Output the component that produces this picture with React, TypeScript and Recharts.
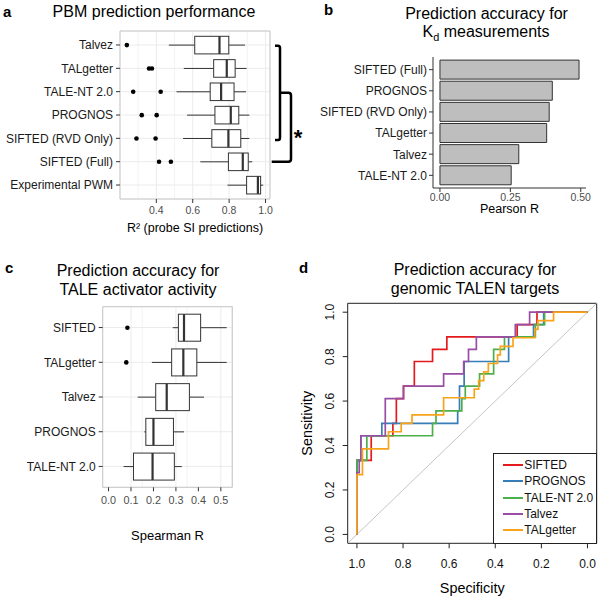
import React from 'react';
import {
  ComposedChart, BarChart, Bar, LineChart, Line, XAxis, YAxis, CartesianGrid, ReferenceLine, Legend,
} from 'recharts';

const FONT = '"Liberation Sans", Arial, Helvetica, sans-serif';

// ---- panel a: PBM prediction performance (R^2 box plots)
const pbmModels = ['Talvez', 'TALgetter', 'TALE-NT 2.0', 'PROGNOS', 'SIFTED (RVD Only)', 'SIFTED (Full)', 'Experimental PWM'];
const pbmLow = [0.469, 0.551, 0.511, 0.569, 0.547, 0.642, 0.791];
const pbmQ1 = [0.611, 0.715, 0.696, 0.722, 0.705, 0.796, 0.896];
const pbmMedian = [0.747, 0.787, 0.756, 0.809, 0.796, 0.875, 0.958];
const pbmQ3 = [0.798, 0.833, 0.827, 0.853, 0.864, 0.905, 0.973];
const pbmHigh = [0.887, 0.896, 0.893, 0.911, 0.911, 0.927, 0.987];
const pbmOutliers = [[0.238], [0.36, 0.376], [0.273, 0.424], [0.32, 0.402], [0.291, 0.396], [0.415, 0.48], []];
const pbmTicks = [0.4, 0.6, 0.8, 1.0];
const pbmMinor = [0.3, 0.5, 0.7, 0.9];

// ---- panel b: Kd prediction accuracy (Pearson R)
const kdModels = ['SIFTED (Full)', 'PROGNOS', 'SIFTED (RVD Only)', 'TALgetter', 'Talvez', 'TALE-NT 2.0'];
const kdPearson = [0.494, 0.399, 0.388, 0.379, 0.28, 0.253];
const kdTicks = [0, 0.25, 0.5];

// ---- panel c: TALE activator activity (Spearman R box plots)
const actModels = ['SIFTED', 'TALgetter', 'Talvez', 'PROGNOS', 'TALE-NT 2.0'];
const actLow = [0.286, 0.193, 0.13, 0.159, 0.067];
const actQ1 = [0.311, 0.281, 0.21, 0.166, 0.111];
const actMedian = [0.336, 0.333, 0.259, 0.2, 0.196];
const actQ3 = [0.41, 0.393, 0.36, 0.289, 0.293];
const actHigh = [0.526, 0.526, 0.425, 0.336, 0.326];
const actOutliers = [[0.084], [0.079], [], [], []];
const actTicks = [0, 0.1, 0.2, 0.3, 0.4, 0.5];
const actMinor = [0.05, 0.15, 0.25, 0.35, 0.45, 0.55];

// ---- panel d: ROC curves (specificity, sensitivity corner points)
const siftedSpec = [1, 1, 0.938, 0.938, 0.844, 0.844, 0.829, 0.829, 0.798, 0.798, 0.751, 0.751, 0.672, 0.672, 0.61, 0.61, 0.305, 0.305, 0.219, 0.219, 0];
const siftedSens = [0, 0.333, 0.333, 0.444, 0.444, 0.5, 0.5, 0.611, 0.611, 0.667, 0.667, 0.778, 0.778, 0.833, 0.833, 0.889, 0.889, 0.944, 0.944, 1, 1];
const prognosSpec = [1, 1, 0.983, 0.983, 0.892, 0.892, 0.563, 0.563, 0.555, 0.555, 0.535, 0.535, 0.342, 0.342, 0.234, 0.234, 0.19, 0.19, 0];
const prognosSens = [0, 0.333, 0.333, 0.444, 0.444, 0.5, 0.5, 0.556, 0.556, 0.667, 0.667, 0.778, 0.778, 0.889, 0.889, 0.944, 0.944, 1, 1];
const talentSpec = [1, 1, 0.957, 0.957, 0.672, 0.672, 0.657, 0.657, 0.545, 0.545, 0.53, 0.53, 0.468, 0.468, 0.407, 0.407, 0.36, 0.36, 0.226, 0.226, 0.186, 0.186, 0];
const talentSens = [0, 0.333, 0.333, 0.444, 0.444, 0.5, 0.5, 0.556, 0.556, 0.611, 0.611, 0.667, 0.667, 0.722, 0.722, 0.833, 0.833, 0.889, 0.889, 0.944, 0.944, 1, 1];
const talvezSpec = [1, 1, 0.99, 0.99, 0.983, 0.983, 0.877, 0.877, 0.798, 0.798, 0.624, 0.624, 0.537, 0.537, 0.516, 0.516, 0.482, 0.482, 0.313, 0.313, 0.251, 0.251, 0];
const talvezSens = [0, 0.278, 0.278, 0.333, 0.333, 0.444, 0.444, 0.611, 0.611, 0.667, 0.667, 0.722, 0.722, 0.778, 0.778, 0.833, 0.833, 0.889, 0.889, 0.944, 0.944, 1, 1];
const talgetterSpec = [1, 1, 0.976, 0.976, 0.863, 0.863, 0.808, 0.808, 0.761, 0.761, 0.624, 0.624, 0.491, 0.491, 0.472, 0.472, 0.45, 0.45, 0.43, 0.43, 0.39, 0.39, 0.378, 0.378, 0.323, 0.323, 0.229, 0.229, 0.215, 0.215, 0.147, 0.147, 0];
const talgetterSens = [0, 0.269, 0.269, 0.385, 0.385, 0.462, 0.462, 0.5, 0.5, 0.538, 0.538, 0.615, 0.615, 0.654, 0.654, 0.692, 0.692, 0.731, 0.731, 0.769, 0.769, 0.808, 0.808, 0.846, 0.846, 0.885, 0.885, 0.923, 0.923, 0.962, 0.962, 1, 1];
const rocTicks = [1, 0.8, 0.6, 0.4, 0.2, 0];

const toBox = (models: string[], lo: number[], q1: number[], med: number[], q3: number[], hi: number[], out: number[][]) =>
  models.map((m, i) => ({ model: m, range: [lo[i], hi[i]], low: lo[i], q1: q1[i], med: med[i], q3: q3[i], high: hi[i], out: out[i] }));

const pbmData = toBox(pbmModels, pbmLow, pbmQ1, pbmMedian, pbmQ3, pbmHigh, pbmOutliers);
const actData = toBox(actModels, actLow, actQ1, actMedian, actQ3, actHigh, actOutliers);
const kdData = kdModels.map((m, i) => ({ model: m, r: kdPearson[i] }));

const toRoc = (spec: number[], sens: number[]) => spec.map((s, i) => ({ spec: s, sens: sens[i] }));
const rocSeries = [
  { name: 'SIFTED', color: '#E41A1C', data: toRoc(siftedSpec, siftedSens) },
  { name: 'PROGNOS', color: '#377EB8', data: toRoc(prognosSpec, prognosSens) },
  { name: 'TALE-NT 2.0', color: '#4DAF4A', data: toRoc(talentSpec, talentSens) },
  { name: 'Talvez', color: '#984EA3', data: toRoc(talvezSpec, talvezSens) },
  { name: 'TALgetter', color: '#F9A31A', data: toRoc(talgetterSpec, talgetterSens) },
];

// box drawn from the whisker range bar; other stats placed on the same linear scale
const BoxShape = (props: any) => {
  const { x, y, width, height, payload } = props;
  const lo = payload.low;
  const hi = payload.high;
  const px = (v: number) => x + ((v - lo) / (hi - lo)) * width;
  const cy = y + height / 2;
  return (
    <g>
      <line x1={px(lo)} x2={px(payload.q1)} y1={cy} y2={cy} stroke="#333" strokeWidth={1} />
      <line x1={px(payload.q3)} x2={px(hi)} y1={cy} y2={cy} stroke="#333" strokeWidth={1} />
      <rect x={px(payload.q1)} y={y} width={px(payload.q3) - px(payload.q1)} height={height} fill="#fff" stroke="#333" strokeWidth={1} />
      <line x1={px(payload.med)} x2={px(payload.med)} y1={y} y2={y + height} stroke="#333" strokeWidth={2.2} />
      {payload.out.map((o: number, i: number) => (
        <circle key={i} cx={px(o)} cy={cy} r={2.3} fill="#000" />
      ))}
    </g>
  );
};

const edgesX = ({ offset }: any) => [offset.left, offset.left + offset.width];
const edgesY = ({ offset }: any) => [offset.top, offset.top + offset.height];

// plain category label, no wrapping
const CatTick = (props: any) => (
  <text x={props.x} y={props.y} textAnchor="end" dy="0.36em" fontSize={12} fill="#1a1a1a">
    {props.payload.value}
  </text>
);

const RocYTick = (props: any) => {
  const { x, y, payload } = props;
  return (
    <text x={x} y={y} transform={`rotate(-90 ${x} ${y})`} textAnchor="middle" dy="0.36em" fontSize={12} fill="#111">
      {Number(payload.value).toFixed(1)}
    </text>
  );
};

const RocLegend = () => (
  <div style={{ width: 104, height: 91, border: '1px solid #222', boxSizing: 'border-box', background: '#fff', paddingTop: 3.5, fontFamily: FONT }}>
    {rocSeries.map((s) => (
      <div key={s.name} style={{ display: 'flex', alignItems: 'center', height: 16.2 }}>
        <span style={{ display: 'inline-block', width: 20, height: 2, marginLeft: 9, marginRight: 1.5, background: s.color }} />
        <span style={{ fontSize: 12, color: '#111', lineHeight: '14px' }}>{s.name}</span>
      </div>
    ))}
  </div>
);

const Title = ({ cx, cy, size = 16, bold = false, children }: any) => (
  <div style={{ position: 'absolute', left: cx - 150, top: cy - size * 0.6, width: 300, textAlign: 'center', fontSize: size, lineHeight: `${size * 1.2}px`, fontWeight: bold ? 'bold' : 'normal', color: '#000', whiteSpace: 'nowrap' }}>
    {children}
  </div>
);

const Letter = ({ x, y, children }: any) => (
  <div style={{ position: 'absolute', left: x, top: y - 9, fontSize: 15, lineHeight: '18px', fontWeight: 'bold', color: '#000' }}>{children}</div>
);

export default function App() {
  return (
    <div style={{ position: 'absolute', left: 0, top: 0, width: 600, height: 599, background: '#fff', overflow: 'hidden', fontFamily: FONT }}>
      <Letter x={3} y={12}>a</Letter>
      <Title cx={154} cy={12}>PBM prediction performance</Title>
      <div style={{ position: 'absolute', left: 0, top: 0 }}>
        <ComposedChart width={300} height={240} data={pbmData} layout="vertical" margin={{ top: 31, right: 30, bottom: 0, left: 0 }}>
          <CartesianGrid horizontal={false} verticalValues={pbmMinor} stroke="#f3f3f3" />
          <CartesianGrid stroke="#ebebeb" />
          <CartesianGrid horizontalCoordinatesGenerator={edgesY} verticalCoordinatesGenerator={edgesX} stroke="#c9c9c9" />
          <XAxis type="number" domain={[0.2005, 1.0245]} ticks={pbmTicks} allowDataOverflow tickFormatter={(v) => v.toFixed(1)} height={41}
            axisLine={false} tickLine={{ stroke: '#333' }} tickSize={4} tickMargin={4} tick={{ fill: '#4d4d4d', fontSize: 10.5 }}
            label={{ value: 'R² (probe SI predictions)', position: 'insideBottom', offset: 7.7, fill: '#000', fontSize: 12.5 }} />
          <YAxis type="category" dataKey="model" width={120} padding={{ top: 2.3, bottom: 2.3 }} interval={0}
            axisLine={false} tickLine={{ stroke: '#333' }} tickSize={4} tickMargin={3} tick={(p: any) => <CatTick {...p} />} />
          <Bar dataKey="range" barSize={17.6} shape={(p: any) => <BoxShape {...p} />} isAnimationActive={false} />
        </ComposedChart>
      </div>
      <svg style={{ position: 'absolute', left: 0, top: 0 }} width={600} height={240}>
        <path d="M275,45.7 H278 Q280,45.7 280,48 V137.7 Q280,140 278,140 H275" fill="none" stroke="#000" strokeWidth={2.5} />
        <path d="M280,92.7 H288.5 Q291,92.7 291,95.5 V159 Q291,161.7 288.5,161.7 H271.7" fill="none" stroke="#000" strokeWidth={2.5} />
        <text x={298} y={145} textAnchor="middle" fontSize={22} fontWeight="bold" fill="#000">*</text>
      </svg>

      <Letter x={324} y={10}>b</Letter>
      <Title cx={486.5} cy={13.3}>Prediction accuracy for</Title>
      <Title cx={486} cy={31.7}>
        K<span style={{ fontSize: '0.68em', position: 'relative', top: '0.35em' }}>d</span> measurements
      </Title>
      <div style={{ position: 'absolute', left: 300, top: 0 }}>
        <BarChart width={300} height={230} data={kdData} layout="vertical" margin={{ top: 57, right: 14, bottom: 0, left: 0 }}>
          <XAxis type="number" domain={[-0.0247, 0.5187]} ticks={kdTicks} allowDataOverflow tickFormatter={(v) => v.toFixed(2)} height={42}
            axisLine={{ stroke: '#333' }} tickLine={{ stroke: '#333' }} tickSize={4} tickMargin={2} tick={{ fill: '#4d4d4d', fontSize: 10.5 }}
            label={{ value: 'Pearson R', position: 'insideBottom', offset: 16.6, fill: '#000', fontSize: 12.5 }} />
          <YAxis type="category" dataKey="model" width={133} padding={{ top: 2.1, bottom: 2.1 }} interval={0}
            axisLine={{ stroke: '#333' }} tickLine={{ stroke: '#333' }} tickSize={4} tickMargin={2} tick={(p: any) => <CatTick {...p} />} />
          <Bar dataKey="r" fill="#bebebe" stroke="#333" strokeWidth={1} barSize={19} isAnimationActive={false} />
        </BarChart>
      </div>

      <Letter x={5} y={268}>c</Letter>
      <Title cx={138} cy={270.7}>Prediction accuracy for</Title>
      <Title cx={138} cy={289.3}>TALE activator activity</Title>
      <div style={{ position: 'absolute', left: 0, top: 250 }}>
        <ComposedChart width={300} height={300} data={actData} layout="vertical" margin={{ top: 56.7, right: 67.7, bottom: 0, left: 0 }}>
          <CartesianGrid horizontal={false} verticalValues={actMinor} stroke="#f3f3f3" />
          <CartesianGrid stroke="#ebebeb" />
          <CartesianGrid horizontalCoordinatesGenerator={edgesY} verticalCoordinatesGenerator={edgesX} stroke="#c9c9c9" />
          <XAxis type="number" domain={[-0.026, 0.551]} ticks={actTicks} allowDataOverflow tickFormatter={(v) => v.toFixed(1)} height={62.7}
            axisLine={false} tickLine={{ stroke: '#333' }} tickSize={4} tickMargin={5.5} tick={{ fill: '#4d4d4d', fontSize: 10.8 }}
            label={{ value: 'Spearman R', position: 'insideBottom', offset: 10.4, fill: '#000', fontSize: 13 }} />
          <YAxis type="category" dataKey="model" width={102.7} padding={{ top: 3.5, bottom: 3.5 }} interval={0}
            axisLine={false} tickLine={{ stroke: '#333' }} tickSize={4} tickMargin={3} tick={(p: any) => <CatTick {...p} />} />
          <Bar dataKey="range" barSize={27} shape={(p: any) => <BoxShape {...p} />} isAnimationActive={false} />
        </ComposedChart>
      </div>

      <Letter x={299} y={268}>d</Letter>
      <Title cx={475} cy={270}>Prediction accuracy for</Title>
      <Title cx={475} cy={288.3}>genomic TALEN targets</Title>
      <div style={{ position: 'absolute', left: 300, top: 250 }}>
        <LineChart width={300} height={349} margin={{ top: 53.3, right: 3.3, bottom: 0, left: 0 }}>
          <CartesianGrid horizontalCoordinatesGenerator={edgesY} verticalCoordinatesGenerator={edgesX} stroke="#222" />
          <XAxis type="number" dataKey="spec" domain={[-0.04, 1.04]} reversed ticks={rocTicks} allowDataOverflow tickFormatter={(v) => v.toFixed(1)} height={55.7}
            axisLine={false} tickLine={{ stroke: '#222' }} tickSize={5} tickMargin={11.4} tick={{ fill: '#111', fontSize: 12 }}
            label={{ value: 'Specificity', position: 'insideBottom', offset: 5.9, fill: '#000', fontSize: 14.4 }} />
          <YAxis type="number" dataKey="sens" domain={[-0.04, 1.04]} ticks={rocTicks} allowDataOverflow width={47.7}
            axisLine={false} tickLine={{ stroke: '#222' }} tickSize={5} tickMargin={12.7} tick={(p: any) => <RocYTick {...p} />}
            label={{ value: 'Sensitivity', angle: -90, position: 'insideLeft', offset: 6.5, fill: '#000', fontSize: 14.4, style: { textAnchor: 'middle' } }} />
          <ReferenceLine segment={[{ x: 1.04, y: -0.04 }, { x: -0.04, y: 1.04 }]} stroke="#c4c4c4" strokeWidth={1} />
          {rocSeries.map((s) => (
            <Line key={s.name} data={s.data} dataKey="sens" name={s.name} type="linear" stroke={s.color} strokeWidth={1.7}
              dot={false} activeDot={false} isAnimationActive={false} />
          ))}
          <Legend layout="vertical" align="center" verticalAlign="middle"
            wrapperStyle={{ left: 192.7, top: 202.7, width: 104, height: 91 }} content={() => <RocLegend />} />
        </LineChart>
      </div>
    </div>
  );
}
